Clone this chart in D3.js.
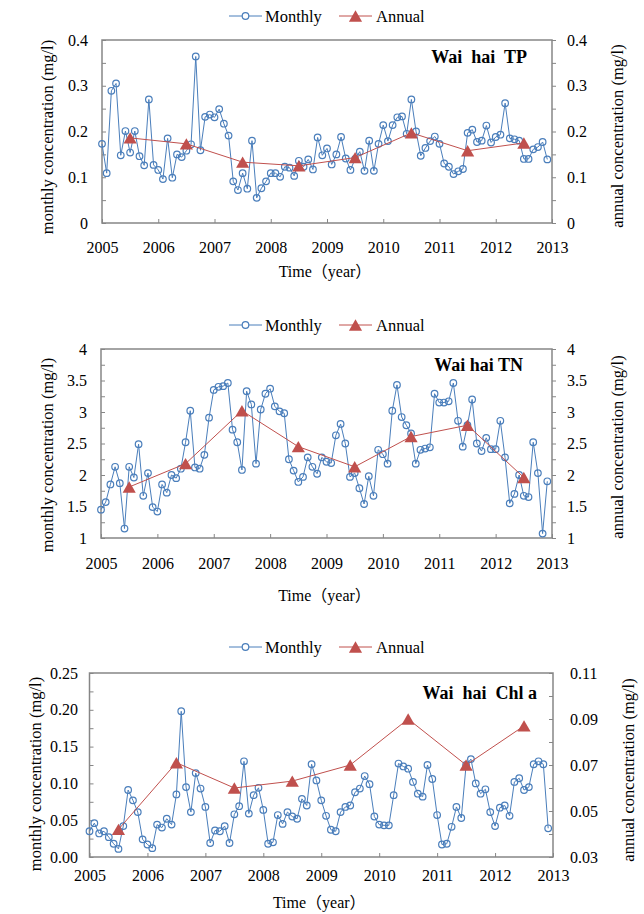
<!DOCTYPE html>
<html>
<head>
<meta charset="utf-8">
<script src="https://cdnjs.cloudflare.com/ajax/libs/d3/7.8.5/d3.min.js"></script>
<style>
  body { margin: 0; background: #fff; }
  text { font-family: "Liberation Serif", "Times New Roman", "Noto Sans CJK SC", serif; fill: #000; }
</style>
</head>
<body>
<svg id="chart" width="644" height="914"></svg>
<script>
// x axis ticks (years)
var years = [2005, 2006, 2007, 2008, 2009, 2010, 2011, 2012, 2013];
var annualYears = [2005, 2006, 2007, 2008, 2009, 2010, 2011, 2012];

// Wai hai TP, monthly (Jan 2005 .. Dec 2012) and annual means, mg/l
var tpMonthly = [
  0.173, 0.109, 0.289, 0.305, 0.148, 0.201, 0.154, 0.201, 0.146, 0.126, 0.270, 0.127,
  0.116, 0.096, 0.185, 0.099, 0.150, 0.144, 0.158, 0.172, 0.364, 0.159, 0.232, 0.237,
  0.231, 0.249, 0.217, 0.191, 0.091, 0.072, 0.109, 0.075, 0.180, 0.055, 0.076, 0.091,
  0.109, 0.109, 0.101, 0.123, 0.121, 0.103, 0.136, 0.123, 0.139, 0.117, 0.187, 0.148,
  0.163, 0.128, 0.150, 0.188, 0.141, 0.116, 0.140, 0.156, 0.114, 0.180, 0.114, 0.173,
  0.214, 0.179, 0.214, 0.231, 0.233, 0.195, 0.270, 0.200, 0.147, 0.164, 0.179, 0.189,
  0.173, 0.130, 0.123, 0.107, 0.113, 0.118, 0.197, 0.204, 0.177, 0.180, 0.213, 0.176,
  0.188, 0.193, 0.262, 0.185, 0.183, 0.180, 0.140, 0.140, 0.161, 0.166, 0.177, 0.139
];
var tpAnnual = [0.186, 0.173, 0.133, 0.125, 0.143, 0.197, 0.158, 0.175];

// Wai hai TN
var tnMonthly = [
  1.45, 1.57, 1.85, 2.13, 1.87, 1.15, 2.13, 1.96, 2.49, 1.67, 2.03, 1.49,
  1.42, 1.85, 1.72, 2.00, 1.95, 2.10, 2.52, 3.02, 2.12, 2.10, 2.32, 2.91,
  3.35, 3.40, 3.41, 3.46, 2.72, 2.52, 2.08, 3.33, 3.12, 2.18, 3.04, 3.29,
  3.37, 3.09, 3.01, 2.98, 2.25, 2.07, 1.89, 1.97, 2.28, 2.13, 2.02, 2.28,
  2.21, 2.19, 2.63, 2.81, 2.50, 1.97, 2.03, 1.79, 1.54, 1.98, 1.67, 2.40,
  2.33, 2.18, 3.02, 3.43, 2.92, 2.79, 2.66, 2.18, 2.40, 2.42, 2.44, 3.29,
  3.15, 3.15, 3.17, 3.46, 2.86, 2.45, 2.79, 3.20, 2.50, 2.38, 2.59, 2.41,
  2.41, 2.86, 2.28, 1.55, 1.70, 2.00, 1.67, 1.65, 2.52, 2.03, 1.07, 1.90
];
var tnAnnual = [1.81, 2.18, 3.02, 2.45, 2.13, 2.61, 2.79, 1.96];

// Wai hai Chl a
var chlMonthly = [
  0.035, 0.046, 0.032, 0.035, 0.027, 0.018, 0.011, 0.042, 0.091, 0.077, 0.061, 0.024,
  0.017, 0.012, 0.044, 0.040, 0.052, 0.044, 0.085, 0.198, 0.095, 0.061, 0.114, 0.093,
  0.068, 0.019, 0.036, 0.035, 0.042, 0.019, 0.058, 0.069, 0.130, 0.059, 0.084, 0.094,
  0.064, 0.018, 0.020, 0.057, 0.045, 0.061, 0.055, 0.052, 0.079, 0.070, 0.126, 0.104,
  0.077, 0.056, 0.037, 0.035, 0.061, 0.068, 0.070, 0.088, 0.093, 0.110, 0.099, 0.055,
  0.044, 0.043, 0.043, 0.084, 0.127, 0.123, 0.120, 0.102, 0.086, 0.082, 0.125, 0.106,
  0.057, 0.017, 0.018, 0.041, 0.068, 0.053, 0.125, 0.133, 0.100, 0.086, 0.092, 0.061,
  0.042, 0.067, 0.070, 0.056, 0.102, 0.107, 0.091, 0.095, 0.126, 0.130, 0.126, 0.039
];
var chlAnnual = [0.042, 0.071, 0.060, 0.063, 0.070, 0.090, 0.070, 0.087];

var blue = "#4A7EBB", red = "#C0504D", frameColor = "#868686";
var svg = d3.select("#chart");

// one config per panel, layout only (values come from the arrays above)
var panels = [
  { title: "Wai  hai  TP", monthly: tpMonthly, annual: tpAnnual,
    left: 102, right: 552, top: 40, bottom: 223,
    yl: [0, 0.4], ylMinor: 0.05, ylMajor: 0.1, ylFmt: d3.format(""),
    yr: [0, 0.4], yrMinor: 0.05, yrMajor: 0.1, yrFmt: d3.format(""),
    rTickOut: true, lPad: 14, xPad: 19, legendY: 16,
    titleX: 527, titleY: 63, xTitleY: 277,
    lTitleX: 47, lTitleY: 137, rTitleX: 617, rTitleY: 136 },
  { title: "Wai hai TN", monthly: tnMonthly, annual: tnAnnual,
    left: 101, right: 552, top: 349, bottom: 538,
    yl: [1, 4], ylMinor: 0.25, ylMajor: 0.5, ylFmt: d3.format(""),
    yr: [1, 4], yrMinor: 0.25, yrMajor: 0.5, yrFmt: d3.format(""),
    rTickOut: true, lPad: 14, xPad: 20, legendY: 325,
    titleX: 523, titleY: 371, xTitleY: 601,
    lTitleX: 47, lTitleY: 455, rTitleX: 617, rTitleY: 447 },
  { title: "Wai  hai  Chl a", monthly: chlMonthly, annual: chlAnnual,
    left: 89.5, right: 553, top: 673, bottom: 857,
    yl: [0, 0.25], ylMinor: 0.025, ylMajor: 0.05, ylFmt: d3.format(".2f"),
    yr: [0.03, 0.11], yrMinor: 0.01, yrMajor: 0.02, yrFmt: d3.format(".2f"),
    rTickOut: false, lPad: 11.5, xPad: 13, legendY: 647,
    titleX: 537, titleY: 699, xTitleY: 908,
    lTitleX: 35, lTitleY: 774, rTitleX: 628, rTitleY: 770 }
];

function tickList(domain, step) {
  var n = Math.round((domain[1] - domain[0]) / step), out = [];
  for (var i = 0; i <= n; i++) out.push(+(domain[0] + i * step).toFixed(6));
  return out;
}

function majorFmt(domain, major, fmt) {
  return function(d) {
    var k = (d - domain[0]) / major;
    return Math.abs(k - Math.round(k)) < 1e-6 ? fmt(d) : "";
  };
}

function styleAxis(g) {
  g.attr("font-family", null).attr("font-size", null);
  g.select(".domain").remove();
  g.selectAll(".tick line").attr("stroke", frameColor).attr("stroke-width", 1);
  g.selectAll(".tick text").style("font-size", "16px");
}

var triSize = 75;
var triShift = Math.sqrt(triSize / (Math.sqrt(3) * 3)) / 2;
var tri = d3.symbol().type(d3.symbolTriangle).size(triSize);

function drawPanel(p) {
  var x = d3.scaleLinear().domain([2005, 2013]).range([p.left, p.right]);
  var yL = d3.scaleLinear().domain(p.yl).range([p.bottom, p.top]);
  var yR = d3.scaleLinear().domain(p.yr).range([p.bottom, p.top]);
  var g = svg.append("g");

  // frame
  g.append("rect")
      .attr("x", p.left).attr("y", p.top)
      .attr("width", p.right - p.left).attr("height", p.bottom - p.top)
      .attr("fill", "none").attr("stroke", frameColor).attr("stroke-width", 1.5);

  // axes
  g.append("g")
      .attr("transform", "translate(" + p.left + ",0)")
      .call(d3.axisLeft(yL).tickValues(tickList(p.yl, p.ylMinor))
        .tickSize(-4).tickPadding(p.lPad).tickFormat(majorFmt(p.yl, p.ylMajor, p.ylFmt)))
      .call(styleAxis);

  g.append("g")
      .attr("transform", "translate(" + p.right + ",0)")
      .call(d3.axisRight(yR).tickValues(tickList(p.yr, p.yrMinor))
        .tickSize(p.rTickOut ? 4 : -4).tickPadding(p.rTickOut ? 11 : 17)
        .tickFormat(majorFmt(p.yr, p.yrMajor, p.yrFmt)))
      .call(styleAxis);

  g.append("g")
      .attr("transform", "translate(0," + p.bottom + ")")
      .call(d3.axisBottom(x).tickValues(years).tickSize(-4).tickPadding(p.xPad)
        .tickFormat(d3.format("d")))
      .call(styleAxis);

  // axis titles
  g.append("text")
      .attr("x", (p.left + p.right) / 2 - 2).attr("y", p.xTitleY)
      .attr("text-anchor", "middle").style("font-size", "16px")
      .text("Time（year）");

  g.append("text")
      .attr("transform", "translate(" + p.lTitleX + "," + p.lTitleY + ") rotate(-90)")
      .attr("text-anchor", "middle").attr("dominant-baseline", "central")
      .style("font-size", "16.5px")
      .text("monthly concentration (mg/l)");

  g.append("text")
      .attr("transform", "translate(" + p.rTitleX + "," + p.rTitleY + ") rotate(-90)")
      .attr("text-anchor", "middle").attr("dominant-baseline", "central")
      .style("font-size", "16.5px")
      .text("annual concentration (mg/l)");

  // panel title
  g.append("text")
      .attr("x", p.titleX).attr("y", p.titleY)
      .attr("text-anchor", "end")
      .style("font-size", "18px").style("font-weight", "bold").style("white-space", "pre")
      .text(p.title);

  // monthly series
  var monthly = p.monthly.map(function(v, i) { return { t: 2005 + i / 12, v: v }; });
  var line = d3.line()
      .x(function(d) { return x(d.t); })
      .y(function(d) { return yL(d.v); });

  g.append("path")
      .datum(monthly)
      .attr("d", line)
      .attr("fill", "none").attr("stroke", blue).attr("stroke-width", 1);

  g.selectAll("circle.m")
      .data(monthly)
      .enter()
        .append("circle")
        .attr("class", "m")
        .attr("cx", function(d) { return x(d.t); })
        .attr("cy", function(d) { return yL(d.v); })
        .attr("r", 3.3)
        .attr("fill", "none").attr("stroke", blue).attr("stroke-width", 1.2);

  // annual series on the right axis
  var annual = p.annual.map(function(v, i) { return { t: annualYears[i] + 0.5, v: v }; });
  var aline = d3.line()
      .x(function(d) { return x(d.t); })
      .y(function(d) { return yR(d.v); });

  g.append("path")
      .datum(annual)
      .attr("d", aline)
      .attr("fill", "none").attr("stroke", red).attr("stroke-width", 1);

  g.selectAll("path.a")
      .data(annual)
      .enter()
        .append("path")
        .attr("class", "a")
        .attr("d", tri)
        .attr("transform", function(d) {
          return "translate(" + x(d.t) + "," + (yR(d.v) + triShift) + ")";
        })
        .attr("fill", red);

  // legend
  var ly = p.legendY;
  var lg = g.append("g");
  lg.append("line").attr("x1", 229).attr("x2", 262).attr("y1", ly).attr("y2", ly)
      .attr("stroke", blue).attr("stroke-width", 1);
  lg.append("circle").attr("cx", 245.5).attr("cy", ly).attr("r", 3.3)
      .attr("fill", "#fff").attr("stroke", blue).attr("stroke-width", 1.2);
  lg.append("text").attr("x", 265).attr("y", ly + 5.5).style("font-size", "16.5px").text("Monthly");
  lg.append("line").attr("x1", 339).attr("x2", 372).attr("y1", ly).attr("y2", ly)
      .attr("stroke", red).attr("stroke-width", 1);
  lg.append("path").attr("d", tri)
      .attr("transform", "translate(355.5," + (ly + triShift) + ")")
      .attr("fill", red);
  lg.append("text").attr("x", 376).attr("y", ly + 5.5).style("font-size", "16.5px").text("Annual");
}

panels.forEach(drawPanel);
</script>
</body>
</html>
